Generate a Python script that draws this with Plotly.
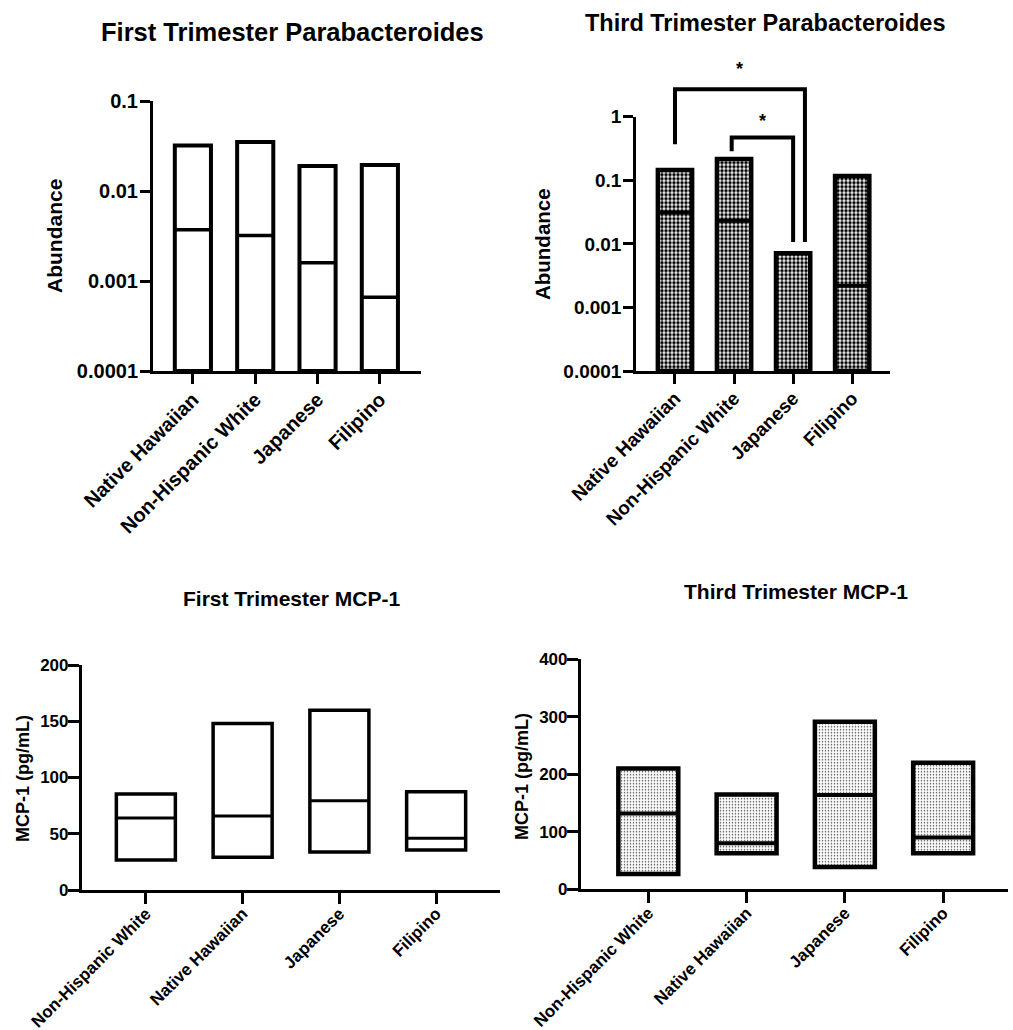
import math
import plotly.graph_objects as go

# ---------------- data ----------------
groups_top = ["Native Hawaiian", "Non-Hispanic White", "Japanese", "Filipino"]
groups_bottom = ["Non-Hispanic White", "Native Hawaiian", "Japanese", "Filipino"]

# First trimester Parabacteroides (relative abundance): min / median / max
t1_para_min = [0.0001, 0.0001, 0.0001, 0.0001]
t1_para_median = [0.0037, 0.0032, 0.0016, 0.00066]
t1_para_max = [0.032, 0.035, 0.019, 0.0195]

# Third trimester Parabacteroides
t3_para_min = [0.0001, 0.0001, 0.0001, 0.0001]
t3_para_median = [0.031, 0.023, 0.0001, 0.0022]
t3_para_max = [0.145, 0.216, 0.0071, 0.117]

# First trimester MCP-1 (pg/mL)
t1_mcp_min = [26.7, 29.0, 33.8, 35.5]
t1_mcp_median = [64.0, 65.8, 79.4, 46.0]
t1_mcp_max = [85.3, 148.0, 159.7, 87.4]

# Third trimester MCP-1 (pg/mL)
t3_mcp_min = [26.6, 62.6, 39.0, 62.6]
t3_mcp_median = [132.0, 80.0, 164.0, 90.0]
t3_mcp_max = [210.0, 165.0, 291.5, 220.0]

log_tickvals_t1 = [0.0001, 0.001, 0.01, 0.1]
log_ticktext_t1 = ["0.0001", "0.001", "0.01", "0.1"]
log_tickvals_t3 = [0.0001, 0.001, 0.01, 0.1, 1]
log_ticktext_t3 = ["0.0001", "0.001", "0.01", "0.1", "1"]

titles = ["First Trimester Parabacteroides", "Third Trimester Parabacteroides",
          "First Trimester MCP-1", "Third Trimester MCP-1"]
ytitles = ["Abundance", "Abundance", "MCP-1 (pg/mL)", "MCP-1 (pg/mL)"]

# significance comparisons in third-trimester Parabacteroides (group index pairs)
sig_pairs = [(0, 2), (1, 2)]
sig_labels = ["*", "*"]

# ---------------- style ----------------
FONT = "Liberation Sans, Arial, Helvetica, sans-serif"
W, H = 1013, 1030


def px_x(p):
    return p / W


def px_y(p):
    return 1 - p / H


panels = [
    dict(groups=groups_top, lo=t1_para_min, med=t1_para_median, hi=t1_para_max,
         log=True, yrange=[-4, -1], tv=log_tickvals_t1, tt=log_ticktext_t1,
         xdom=[px_x(153), px_x(421)], ydom=[px_y(371), px_y(101)], xr=[-0.64, 3.66],
         bw=0.58, blw=4, alw=3, tf=20, cf=20, pattern=None, ticklen=10, xstand=-4, ystand=-2),
    dict(groups=groups_top, lo=t3_para_min, med=t3_para_median, hi=t3_para_max,
         log=True, yrange=[-4, 0], tv=log_tickvals_t3, tt=log_ticktext_t3,
         xdom=[px_x(636), px_x(890)], ydom=[px_y(371), px_y(116.7)], xr=[-0.66, 3.64],
         bw=0.58, blw=4.5, alw=2.5, tf=19, cf=19,
         pattern=dict(shape=".", fgcolor="#000000", bgcolor="#ffffff", size=4, solidity=0.6),
         ticklen=10, xstand=-4, ystand=-2),
    dict(groups=groups_bottom, lo=t1_mcp_min, med=t1_mcp_median, hi=t1_mcp_max,
         log=False, yrange=[0, 200], tv=[0, 50, 100, 150, 200], tt=None,
         xdom=[px_x(82), px_x(500)], ydom=[px_y(890), px_y(665)], xr=[-0.66, 3.66],
         bw=0.61, blw=3.5, alw=3.2, tf=17, cf=17, pattern=None, ticklen=11, xstand=-7,
         ystand=-4),
    dict(groups=groups_bottom, lo=t3_mcp_min, med=t3_mcp_median, hi=t3_mcp_max,
         log=False, yrange=[0, 400], tv=[0, 100, 200, 300, 400], tt=None,
         xdom=[px_x(581), px_x(1008)], ydom=[px_y(889.3), px_y(659.3)], xr=[-0.685, 3.66],
         bw=0.61, blw=4.5, alw=3.2, tf=17, cf=17,
         pattern=dict(shape=".", fgcolor="#444444", bgcolor="#ffffff", size=3, solidity=0.22),
         ticklen=11, xstand=-7, ystand=-4),
]

title_pos = [(292, 32, 25.5), (764.5, 23, 23.5), (291, 598, 21), (796, 592, 21)]
ytitle_pos = [(55, 236, 21), (543, 244, 20.5), (23, 779, 18), (522, 777, 18)]

fig = go.Figure()
shapes = []
annotations = []

for k, p in enumerate(panels):
    sfx = "" if k == 0 else str(k + 1)
    xa, ya = "x" + sfx, "y" + sfx
    height = [h - l for h, l in zip(p["hi"], p["lo"])]
    marker = dict(color="white", line=dict(color="black", width=p["blw"]))
    if p["pattern"]:
        marker["pattern"] = dict(fillmode="replace", **p["pattern"])
    fig.add_trace(go.Bar(x=p["groups"], y=height, base=p["lo"], width=p["bw"],
                         marker=marker, xaxis=xa, yaxis=ya, showlegend=False,
                         hoverinfo="skip"))
    # median lines
    for i, m in enumerate(p["med"]):
        shapes.append(dict(type="line", xref=xa, yref=ya,
                           x0=i - p["bw"] / 2, x1=i + p["bw"] / 2, y0=m, y1=m,
                           line=dict(color="black", width=p["blw"] - 0.5), layer="above"))
    axkey_x = "xaxis" + sfx
    axkey_y = "yaxis" + sfx
    fig.layout[axkey_x] = dict(domain=p["xdom"], anchor=ya, range=p["xr"], type="category",
                               automargin=False, ticklabelstandoff=p["xstand"],
                               showline=True, linecolor="black", linewidth=p["alw"],
                               ticks="outside", ticklen=p["ticklen"], tickwidth=p["alw"],
                               tickcolor="black", tickangle=-45, showgrid=False,
                               tickfont=dict(family=FONT, size=p["cf"], color="black",
                                             weight="bold"))
    ydict = dict(domain=p["ydom"], anchor=xa, range=p["yrange"], automargin=False,
                 ticklabelstandoff=p["ystand"],
                 showline=True, linecolor="black", linewidth=p["alw"],
                 ticks="outside", ticklen=p["ticklen"], tickwidth=p["alw"], tickcolor="black",
                 showgrid=False, zeroline=False, tickvals=p["tv"],
                 tickfont=dict(family=FONT, size=p["tf"], color="black", weight="bold"))
    if p["log"]:
        ydict["type"] = "log"
        ydict["ticktext"] = p["tt"]
    else:
        ydict["type"] = "linear"
    fig.layout[axkey_y] = ydict

    tx, ty, ts = title_pos[k]
    annotations.append(dict(text=titles[k], xref="paper", yref="paper", x=px_x(tx), y=px_y(ty),
                            xanchor="center", yanchor="middle", showarrow=False,
                            font=dict(family=FONT, size=ts, color="black", weight="bold")))
    yx, yy, ys = ytitle_pos[k]
    annotations.append(dict(text=ytitles[k], xref="paper", yref="paper", x=px_x(yx), y=px_y(yy),
                            xanchor="center", yanchor="middle", showarrow=False, textangle=-90,
                            font=dict(family=FONT, size=ys, color="black", weight="bold")))

# significance brackets on panel 2 (third trimester Parabacteroides)
p2 = panels[1]


def xd(v):
    return (v - p2["xr"][0]) / (p2["xr"][1] - p2["xr"][0])


def yd(v):
    lo, hi = p2["yrange"]
    return (math.log10(v) - lo) / (hi - lo)


# bracket geometry: (left x, right x, top, left-leg bottom, right-leg bottom, star shift)
bracket_geom = [
    (0.0, 2.2, 2.7, 0.37, 0.0107, 8),
    (0.96, 2.0, 0.47, 0.285, 0.0107, 5),
]
for (a, b), lab, g in zip(sig_pairs, sig_labels, bracket_geom):
    lx, rx, top, lb, rb, sh = g
    path = "M {:.5f} {:.5f} L {:.5f} {:.5f} L {:.5f} {:.5f} L {:.5f} {:.5f}".format(
        xd(lx), yd(lb), xd(lx), yd(top), xd(rx), yd(top), xd(rx), yd(rb))
    shapes.append(dict(type="path", xref="x2 domain", yref="y2 domain", path=path,
                       line=dict(color="black", width=4)))
    annotations.append(dict(text=lab, xref="x2 domain", yref="y2 domain",
                            x=xd((lx + rx) / 2), y=yd(top), xanchor="center", yanchor="bottom",
                            yshift=sh, showarrow=False,
                            font=dict(family=FONT, size=18, color="black", weight="bold")))

fig.update_layout(template="none", width=W, height=H, margin=dict(l=0, r=0, t=0, b=0),
                  paper_bgcolor="white", plot_bgcolor="white", showlegend=False,
                  barmode="overlay", shapes=shapes, annotations=annotations)

fig.write_html("out.html")
